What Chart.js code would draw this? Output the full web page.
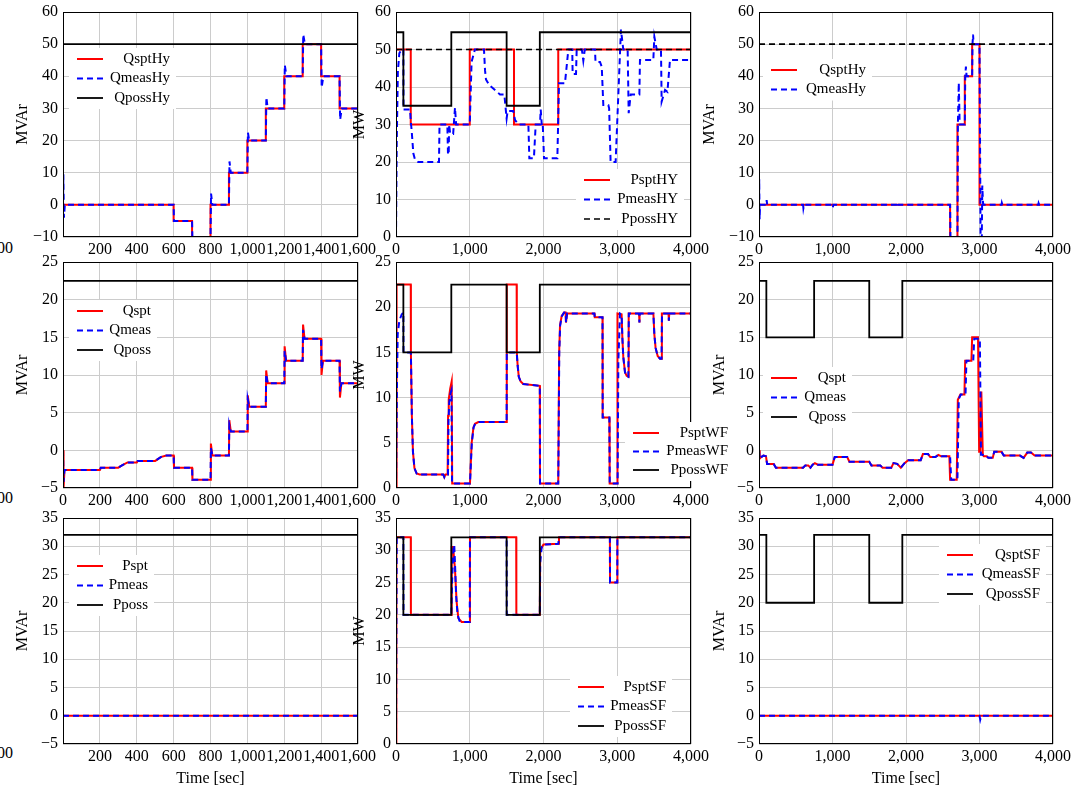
<!DOCTYPE html>
<html>
<head>
<meta charset="utf-8">
<script src="https://cdn.jsdelivr.net/npm/chart.js@4.4.0/dist/chart.umd.min.js"></script>
<style>
  html, body { margin: 0; padding: 0; background: #fff; overflow: hidden; }
  #fig { position: relative; width: 1089px; height: 793px; }
  #fig canvas { position: absolute; }
  .cut { position: absolute; left: -3px; font: 16px "Liberation Serif", serif; line-height: 16px; }
</style>
</head>
<body>
<div id="fig">
  <span class="cut" style="top:240px">00</span>
  <span class="cut" style="top:490px">00</span>
  <span class="cut" style="top:745px">00</span>
</div>
<script>
// ---- hydro, reactive power, 0..1600 s
const aSptT = [0, 600, 700, 800, 900, 1000, 1100, 1200, 1300, 1400, 1500, 1600];
const aSptV = [0, -5, -10, 0, 10, 20, 30, 40, 50, 40, 30, 30];
const aMeasT = [0, 2, 5, 10, 600, 602, 700, 702, 800, 803, 810, 900, 903, 910, 1000, 1003, 1010, 1100, 1103, 1110, 1200, 1203, 1212, 1300, 1303, 1312, 1400, 1403, 1412, 1500, 1503, 1512, 1600];
const aMeasV = [0, 9.5, -4, 0, 0, -5, -5, -10.5, -10.5, 3.5, 0, 0, 13.5, 10, 10, 22.5, 20, 20, 33.5, 30, 30, 43.5, 40, 40, 53, 50, 50, 36.5, 40, 40, 26.5, 30, 30];
const aPossT = [0, 1600];
const aPossV = [50, 50];

// ---- hydro, active power, 0..4000 s
const bSptT = [0, 200, 1000, 1600, 2200, 4000];
const bSptV = [50, 30, 50, 30, 50, 50];
const bMeasT = [0, 10, 25, 45, 77, 100, 102, 190, 200, 215, 235, 258, 300, 583, 590, 696, 705, 715, 720, 735, 775, 800, 815, 1000, 1025, 1070, 1193, 1207, 1220, 1265, 1342, 1410, 1469, 1500, 1514, 1590, 1614, 1660, 1795, 1808, 1870, 1894, 1952, 1962, 1978, 1990, 2007, 2188, 2210, 2291, 2337, 2390, 2395, 2441, 2450, 2520, 2540, 2560, 2698, 2705, 2766, 2790, 2811, 2879, 2890, 2910, 2978, 3050, 3082, 3141, 3155, 3182, 3300, 3308, 3489, 3503, 3535, 3593, 3602, 3648, 3680, 3715, 4000];
const bMeasV = [0, 25, 44, 49, 50, 50, 34, 34, 31, 27.7, 22.3, 20.6, 20, 20, 30, 30, 22, 22, 30, 27.5, 27.5, 34.5, 30, 30, 46.7, 50, 50, 44.5, 42, 40.5, 39.2, 38, 38, 31.6, 33.6, 33.6, 31.2, 30, 30, 21, 21, 30, 30, 34, 29.6, 30, 21, 21, 41, 41, 50, 50, 43.5, 43.5, 50, 50, 47, 50, 50, 46.7, 46.7, 45.4, 35.2, 35.2, 34.3, 20, 20, 55.3, 50, 50, 33, 38, 38, 47.2, 47.2, 53.4, 50, 50, 36.1, 39.2, 38.7, 47.2, 47.2];
const bPossT = [0, 4000];
const bPossV = [50, 50];
const bAvailT = [0, 100, 750, 1500, 1950, 4000];
const bAvailV = [54.6, 35, 54.6, 35, 54.6, 54.6];

// ---- hydro, reactive power, 0..4000 s
const cSptT = [0, 2600, 2700, 2800, 2900, 3000, 4000];
const cSptV = [0, -10, 25, 40, 50, 0, 0];
const cMeasT = [0, 3, 8, 15, 100, 104, 112, 600, 604, 612, 1000, 1004, 1012, 1880, 1884, 1892, 2600, 2606, 2700, 2706, 2718, 2730, 2800, 2806, 2815, 2825, 2900, 2905, 2912, 2920, 3000, 3015, 3030, 3038, 3048, 3058, 3300, 3304, 3312, 3800, 3804, 3812, 4000];
const cMeasV = [0, 8, -4.5, 0, 0, 1.5, 0, 0, -1, 0, 0, -0.8, 0, 0, 0.7, 0, 0, -12, -12, 25, 38, 25, 25, 40, 43, 40, 40, 50, 53, 50, 50, -12, -12, 6, 0.5, 0, 0, 0.6, 0, 0, 0.5, 0, 0];
const cLimT = [0, 4000];
const cLimV = [50, 50];

// ---- wind farm, reactive power, 0..1600 s
const dT = [0, 3, 8, 200, 205, 300, 320, 350, 400, 405, 500, 530, 560, 600, 602, 700, 702, 800, 802, 810, 900, 902, 910, 1000, 1002, 1010, 1100, 1102, 1110, 1200, 1202, 1210, 1300, 1302, 1310, 1400, 1402, 1410, 1500, 1502, 1510, 1600];
const dSptV = [0, -5, -2.6, -2.6, -2.3, -2.3, -2.0, -1.6, -1.6, -1.4, -1.4, -0.9, -0.7, -0.7, -2.3, -2.3, -3.9, -3.9, 0.9, -0.7, -0.7, 4.0, 2.5, 2.5, 7.3, 5.8, 5.8, 10.6, 8.9, 8.9, 13.8, 11.9, 11.9, 16.7, 14.8, 14.8, 10.0, 11.9, 11.9, 7.0, 8.9, 8.9];
const dMeasV = [0, -4.2, -2.6, -2.6, -2.3, -2.3, -2.0, -1.6, -1.6, -1.4, -1.4, -0.9, -0.7, -0.7, -2.3, -2.3, -3.9, -3.9, 0.3, -0.7, -0.7, 3.4, 2.5, 2.5, 6.8, 5.8, 5.8, 10.1, 8.9, 8.9, 13.2, 11.9, 11.9, 16.0, 14.8, 14.8, 10.8, 11.9, 11.9, 7.8, 8.9, 8.9];
const dPossT = [0, 1600];
const dPossV = [22.5, 22.5];

// ---- wind farm, active power, 0..4000 s
const eSptT = [0, 8, 200, 202, 215, 230, 250, 280, 320, 640, 655, 670, 700, 706, 715, 735, 755, 762, 1003, 1026, 1050, 1071, 1116, 1500, 1502, 1636, 1638, 1650, 1665, 1690, 1726, 1950, 1952, 2200, 2212, 2224, 2246, 2278, 2300, 2305, 2320, 2690, 2695, 2800, 2802, 2893, 2897, 3000, 3003, 3059, 3070, 3082, 3105, 3128, 3150, 3155, 3295, 3300, 3305, 3490, 3503, 3520, 3548, 3580, 3600, 3605, 3695, 3700, 3705, 4000];
const eSptV = [0, 22.5, 22.5, 15, 8, 4, 2.2, 1.6, 1.5, 1.5, 1.2, 1.5, 1.5, 8, 9.8, 11, 11.8, 0.5, 0.5, 5, 6.7, 7.1, 7.3, 7.3, 22.5, 22.5, 15, 13.5, 12.3, 11.8, 11.5, 11.3, 0.5, 0.5, 15, 18, 19, 19.4, 19.4, 18.3, 19.3, 19.3, 18.9, 18.9, 7.8, 7.8, 0.5, 0.5, 19.3, 19.2, 16.5, 14.5, 12.8, 12.4, 12.3, 19.3, 19.3, 18.3, 19.3, 19.3, 17, 15.5, 14.6, 14.3, 14.3, 19.3, 19.3, 18.5, 19.3, 19.3];
const eMeasT = [0, 14, 23, 45, 77, 100, 102, 202, 215, 230, 250, 280, 320, 640, 655, 670, 705, 712, 722, 740, 752, 760, 1003, 1028, 1052, 1073, 1118, 1500, 1502, 1636, 1650, 1665, 1690, 1726, 1950, 1953, 2200, 2214, 2226, 2248, 2280, 2300, 2305, 2320, 2690, 2695, 2800, 2803, 2893, 2898, 3005, 3015, 3037, 3059, 3070, 3082, 3105, 3128, 3150, 3157, 3295, 3300, 3305, 3490, 3503, 3520, 3548, 3580, 3600, 3607, 3695, 3700, 3705, 4000];
const eMeasV = [0, 12, 17, 18.5, 19.2, 19.4, 15, 15, 8, 4, 2.2, 1.6, 1.5, 1.5, 1.2, 1.5, 1.5, 7.5, 9.5, 10.5, 10.8, 0.5, 0.5, 5, 6.7, 7.1, 7.3, 7.3, 15, 15, 13.5, 12.3, 11.8, 11.5, 11.3, 0.5, 0.5, 15, 18, 19, 19.4, 19.4, 18.3, 19.3, 19.3, 18.9, 18.9, 7.8, 7.8, 0.5, 0.5, 14, 19.3, 19.2, 16.5, 14.5, 12.8, 12.4, 12.3, 19.3, 19.3, 18.3, 19.3, 19.3, 17, 15.5, 14.6, 14.3, 14.3, 19.3, 19.3, 18.5, 19.3, 19.3];
const wfPossT = [0, 100, 750, 1500, 1950, 4000];
const wfPossV = [22.5, 15, 22.5, 15, 22.5, 22.5];

// ---- wind farm, reactive power, 0..4000 s
const fSptT = [0, 10, 30, 60, 95, 110, 200, 230, 600, 630, 670, 700, 730, 760, 800, 1000, 1030, 1200, 1230, 1500, 1530, 1650, 1680, 1800, 1830, 1880, 1930, 1980, 2030, 2200, 2230, 2300, 2330, 2400, 2440, 2480, 2590, 2600, 2690, 2705, 2740, 2795, 2805, 2890, 2900, 2980, 2995, 3010, 3025, 3045, 3060, 3100, 3120, 3180, 3200, 3300, 3330, 3550, 3600, 3650, 3700, 3750, 4000];
const fSptV = [0, -1.1, -0.9, -0.7, -0.8, -1.8, -1.8, -2.3, -2.3, -2.0, -2.0, -2.3, -1.9, -1.7, -1.9, -1.9, -0.9, -0.9, -1.5, -1.5, -2.0, -2.0, -2.3, -2.3, -1.7, -1.8, -2.3, -1.7, -1.3, -1.3, -0.5, -0.5, -0.9, -0.9, -0.6, -0.8, -0.8, -3.9, -3.9, 6.7, 7.4, 7.4, 11.9, 11.9, 15, 15, -0.2, -0.2, 7.8, -0.6, -0.8, -0.8, -1.0, -1.0, -0.2, -0.2, -0.7, -0.7, -1.0, -0.3, -0.3, -0.7, -0.7];
const fMeasT = [0, 10, 30, 60, 95, 110, 200, 230, 600, 630, 670, 700, 730, 760, 800, 1000, 1030, 1200, 1230, 1500, 1530, 1650, 1680, 1800, 1830, 1880, 1930, 1980, 2030, 2200, 2230, 2300, 2330, 2400, 2440, 2480, 2600, 2615, 2700, 2718, 2745, 2810, 2822, 2915, 2928, 3005, 3020, 3045, 3060, 3100, 3120, 3180, 3200, 3300, 3330, 3550, 3600, 3650, 3700, 3750, 4000];
const fMeasV = [0, -1.1, -0.9, -0.7, -0.8, -1.8, -1.8, -2.3, -2.3, -2.0, -2.0, -2.3, -1.9, -1.7, -1.9, -1.9, -0.9, -0.9, -1.5, -1.5, -2.0, -2.0, -2.3, -2.3, -1.7, -1.8, -2.3, -1.7, -1.3, -1.3, -0.5, -0.5, -0.9, -0.9, -0.6, -0.8, -0.8, -3.9, -3.9, 6.8, 7.4, 7.4, 11.9, 11.9, 14.8, 14.8, -0.6, -0.6, -0.8, -0.8, -1.0, -1.0, -0.2, -0.2, -0.7, -0.7, -1.0, -0.3, -0.3, -0.7, -0.7];

// ---- solar farm, 0..1600 s
const gT = [0, 1600];
const gSptV = [0, 0];
const gMeasV = [0, 0];
const gPossV = [32, 32];

// ---- solar farm, active power, 0..4000 s
const hSptT = [0, 5, 200, 202, 750, 755, 775, 800, 822, 845, 890, 1000, 1003, 1630, 1632, 1950, 1955, 1980, 2000, 2200, 2210, 2900, 2902, 3000, 3002, 4000];
const hSptV = [0, 32, 32, 20, 20, 30.5, 30.5, 27, 22, 19.5, 18.9, 18.9, 32, 32, 20, 20, 30, 30.5, 30.9, 31, 32, 32, 25, 25, 32, 32];
const hMeasT = [0, 10, 100, 102, 750, 760, 780, 790, 800, 815, 835, 860, 900, 1000, 1003, 1500, 1502, 1950, 1955, 1975, 2000, 2200, 2210, 2900, 2902, 3000, 3002, 4000];
const hMeasV = [0, 32, 32, 20, 20, 25, 30.8, 30.8, 28, 23, 20, 19.1, 18.9, 18.9, 32, 32, 20, 20, 28, 30.5, 30.9, 31, 32, 32, 25, 25, 32, 32];
const sfPossT = [0, 100, 750, 1500, 1950, 4000];
const sfPossV = [32, 20, 32, 20, 32, 32];

// ---- solar farm, reactive power, 0..4000 s
const iSptT = [0, 4000];
const iSptV = [0, 0];
const iMeasT = [0, 3000, 3010, 3020, 3030, 4000];
const iMeasV = [0, 0, -0.7, -0.2, 0, 0];

const FONT = '"Liberation Serif", "Times New Roman", serif';
Chart.defaults.font.family = FONT;
Chart.defaults.font.size = 16;
Chart.defaults.color = '#000';
const GRID = '#cccccc';
const PAD_T = 14, PAD_R = 40;

const RED = { borderColor: '#ff0000', borderWidth: 2, order: 3 };
const BLUE = { borderColor: '#0000ff', borderWidth: 2, borderDash: [6, 4], order: 2 };
const BLACK = { borderColor: '#000000', borderWidth: 1.8, order: 1 };
const BLACKDASH = { borderColor: '#000000', borderWidth: 1.6, borderDash: [6, 4], order: 1 };

const pts = (ts, vs) => ts.map((t, i) => ({ x: t, y: vs[i] }));
const fmt = (v, hideZero) => (hideZero && v === 0) ? '' : Number(v).toLocaleString('en-US').replace('-', '\u2212');

function ds(label, t, v, style, stepped, inLegend = true) {
  return Object.assign({
    label, data: pts(t, v), stepped: stepped ? 'before' : false,
    pointRadius: 0, tension: 0, fill: false, inLegend
  }, style);
}

const panels = [
  { left: 63, top: 12, w: 295, h: 225, yw: 50, xh: 22, xMax: 1600, xStep: 200, hideZero: true,
    yMin: -10, yMax: 60, yStep: 10, yTitle: 'MVAr', legend: { x: 14, y: 47, right: 107 },
    sets: [ds('QsptHy', aSptT, aSptV, RED, true), ds('QmeasHy', aMeasT, aMeasV, BLUE), ds('QpossHy', aPossT, aPossV, BLACK)] },
  { left: 396, top: 12, w: 295, h: 225, yw: 46, xh: 22, xMax: 4000, xStep: 1000,
    yMin: 0, yMax: 60, yStep: 10, yTitle: 'MW', legend: { x: 188, y: 168, right: 282 },
    sets: [ds('PsptHY', bSptT, bSptV, RED, true), ds('PmeasHY', bMeasT, bMeasV, BLUE), ds('PpossHY', bPossT, bPossV, BLACKDASH),
           ds('', bAvailT, bAvailV, BLACK, true, false)] },
  { left: 759, top: 12, w: 294, h: 225, yw: 59, xh: 22, xMax: 4000, xStep: 1000,
    yMin: -10, yMax: 60, yStep: 10, yTitle: 'MVAr', legend: { x: 12, y: 58, right: 107 },
    sets: [ds('QsptHy', cSptT, cSptV, RED, true), ds('QmeasHy', cMeasT, cMeasV, BLUE), ds('', cLimT, cLimV, BLACKDASH, false, false)] },

  { left: 63, top: 262, w: 295, h: 226, yw: 50, xh: 22, xMax: 1600, xStep: 200,
    yMin: -5, yMax: 25, yStep: 5, yTitle: 'MVAr', legend: { x: 14, y: 49, right: 88 },
    sets: [ds('Qspt', dT, dSptV, RED), ds('Qmeas', dT, dMeasV, BLUE), ds('Qposs', dPossT, dPossV, BLACK)] },
  { left: 396, top: 262, w: 295, h: 226, yw: 46, xh: 22, xMax: 4000, xStep: 1000,
    yMin: 0, yMax: 25, yStep: 5, yTitle: 'MW', legend: { x: 237, y: 171, right: 332, row: 18.5 },
    sets: [ds('PsptWF', eSptT, eSptV, RED), ds('PmeasWF', eMeasT, eMeasV, BLUE), ds('PpossWF', wfPossT, wfPossV, BLACK, true)] },
  { left: 759, top: 262, w: 294, h: 226, yw: 49, xh: 22, xMax: 4000, xStep: 1000,
    yMin: -5, yMax: 25, yStep: 5, yTitle: 'MVAr', legend: { x: 12, y: 116, right: 87 },
    sets: [ds('Qspt', fSptT, fSptV, RED), ds('Qmeas', fMeasT, fMeasV, BLUE), ds('Qposs', wfPossT, wfPossV, BLACK, true)] },

  { left: 63, top: 518, w: 295, h: 226, yw: 50, xh: 44, xMax: 1600, xStep: 200, hideZero: true, xTitle: 'Time [sec]',
    yMin: -5, yMax: 35, yStep: 5, yTitle: 'MVAr', legend: { x: 14, y: 48, right: 85 },
    sets: [ds('Pspt', gT, gSptV, RED), ds('Pmeas', gT, gMeasV, BLUE), ds('Pposs', gT, gPossV, BLACK)] },
  { left: 396, top: 518, w: 295, h: 226, yw: 46, xh: 44, xMax: 4000, xStep: 1000, xTitle: 'Time [sec]',
    yMin: 0, yMax: 35, yStep: 5, yTitle: 'MW', legend: { x: 182, y: 169, right: 270 },
    sets: [ds('PsptSF', hSptT, hSptV, RED), ds('PmeasSF', hMeasT, hMeasV, BLUE), ds('PpossSF', sfPossT, sfPossV, BLACK, true)] },
  { left: 759, top: 518, w: 294, h: 226, yw: 49, xh: 44, xMax: 4000, xStep: 1000, xTitle: 'Time [sec]',
    yMin: -5, yMax: 35, yStep: 5, yTitle: 'MVAr', legend: { x: 188, y: 37, right: 281 },
    sets: [ds('QsptSF', iSptT, iSptV, RED), ds('QmeasSF', iMeasT, iMeasV, BLUE), ds('QpossSF', sfPossT, sfPossV, BLACK, true)] }
];

const frame = {
  id: 'frame',
  afterDatasetsDraw(chart) {
    const { ctx, chartArea: a } = chart;
    ctx.save();
    ctx.strokeStyle = '#000';
    ctx.lineWidth = 1;
    ctx.strokeRect(Math.round(a.left) + 0.5, Math.round(a.top) + 0.5, Math.round(a.width) - 1, Math.round(a.height) - 1);
    ctx.restore();
  }
};

function boxLegend(pos) {
  return {
    id: 'boxLegend',
    afterDraw(chart) {
      const { ctx, chartArea: a } = chart;
      const items = chart.data.datasets.filter(d => d.inLegend);
      const row = pos.row || 19.5;
      const x0 = a.left + pos.x, x1 = x0 + 26, xr = a.left + pos.right;
      const y0 = a.top + pos.y;
      ctx.save();
      ctx.fillStyle = '#fff';
      ctx.fillRect(x0 - 8, y0 - 11, xr - x0 + 14, row * (items.length - 1) + 22);
      items.forEach((d, i) => {
        const y = y0 + i * row;
        ctx.beginPath();
        ctx.strokeStyle = d.borderColor;
        ctx.lineWidth = d.borderWidth;
        ctx.setLineDash(d.borderDash || []);
        ctx.moveTo(x0, y);
        ctx.lineTo(x1, y);
        ctx.stroke();
        ctx.setLineDash([]);
        ctx.fillStyle = '#000';
        ctx.font = '15px ' + FONT;
        ctx.textAlign = 'right';
        ctx.textBaseline = 'middle';
        ctx.fillText(d.label, xr, y);
      });
      ctx.restore();
    }
  };
}

const fig = document.getElementById('fig');

panels.forEach(p => {
  const cv = document.createElement('canvas');
  const W = p.yw + p.w + PAD_R, H = PAD_T + p.h + p.xh;
  cv.width = W;
  cv.height = H;
  cv.style.width = W + 'px';
  cv.style.height = H + 'px';
  cv.style.left = (p.left - p.yw) + 'px';
  cv.style.top = (p.top - PAD_T) + 'px';
  fig.appendChild(cv);

  new Chart(cv, {
    type: 'line',
    data: { datasets: p.sets },
    options: {
      responsive: false,
      animation: false,
      devicePixelRatio: 1,
      layout: { padding: { left: 0, top: PAD_T, right: PAD_R, bottom: 0 } },
      plugins: { legend: { display: false }, tooltip: { enabled: false } },
      scales: {
        x: {
          type: 'linear', min: 0, max: p.xMax,
          ticks: { stepSize: p.xStep, autoSkip: false, maxRotation: 0, minRotation: 0, padding: 3,
                   callback: v => fmt(v, p.hideZero) },
          grid: { color: GRID, drawTicks: false },
          border: { display: false },
          title: { display: !!p.xTitle, text: p.xTitle || '', padding: 0 },
          afterFit: s => { s.height = p.xh; s.paddingLeft = 0; s.paddingRight = 0; }
        },
        y: {
          type: 'linear', min: p.yMin, max: p.yMax,
          ticks: { stepSize: p.yStep, padding: 5, callback: v => fmt(v, false) },
          grid: { color: GRID, drawTicks: false },
          border: { display: false },
          title: { display: true, text: p.yTitle, padding: 0 },
          afterFit: s => { s.width = p.yw; s.paddingTop = 0; s.paddingBottom = 0; }
        }
      }
    },
    plugins: [frame, boxLegend(p.legend)]
  });
});
</script>
</body>
</html>
